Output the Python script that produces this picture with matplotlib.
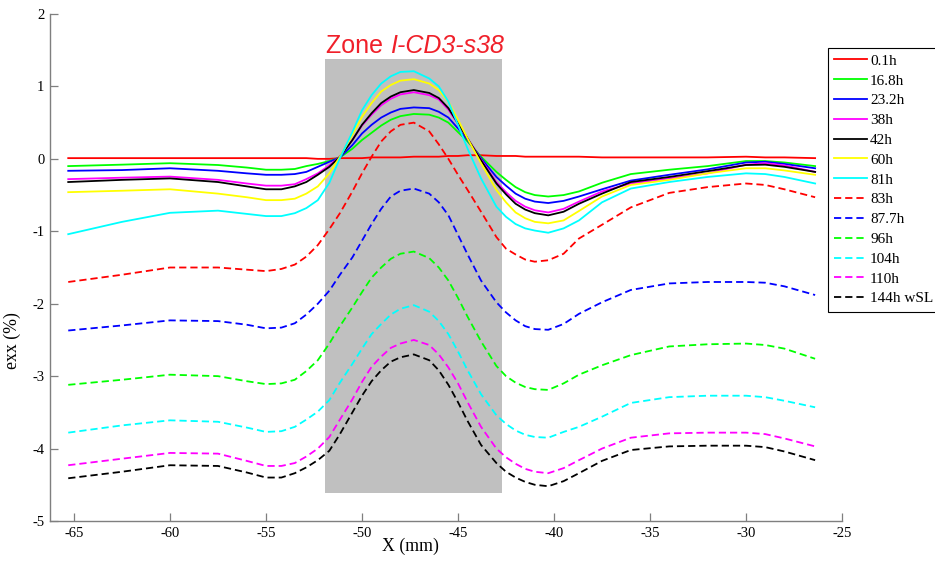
import matplotlib
matplotlib.use('Agg')
import matplotlib.pyplot as plt
from matplotlib.patches import Rectangle

plt.rcParams['axes.unicode_minus'] = False

# ---------------- data ----------------
x_mm = [-65.3, -62.5, -60.0, -57.5, -56.0, -55.0, -54.2, -53.5, -52.9, -52.3,
        -51.7, -51.15, -50.5, -50.0, -49.5, -49.0, -48.5, -48.0, -47.3, -46.5,
        -46.0, -45.5, -45.0, -44.5, -43.8, -43.0, -42.5, -42.0, -41.5, -41.0,
        -40.3, -39.5, -38.7, -37.5, -36.0, -34.0, -32.0, -30.0, -29.0, -28.0, -26.4]

e_0_1h = [0.01, 0.01, 0.01, 0.01, 0.01, 0.01, 0.01, 0.01, 0.01, 0.0,
          0.0, 0.01, 0.01, 0.01, 0.02, 0.02, 0.02, 0.02, 0.03, 0.03,
          0.03, 0.04, 0.04, 0.05, 0.05, 0.04, 0.04, 0.04, 0.03, 0.03,
          0.03, 0.03, 0.03, 0.02, 0.02, 0.02, 0.02, 0.03, 0.02, 0.02, 0.01]
e_16_8h = [-0.10, -0.08, -0.06, -0.085, -0.12, -0.15, -0.15, -0.14, -0.10, -0.07,
           -0.03, 0.02, 0.14, 0.26, 0.36, 0.46, 0.54, 0.59, 0.62, 0.61,
           0.57, 0.50, 0.37, 0.24, 0.03, -0.18, -0.29, -0.39, -0.46, -0.50,
           -0.52, -0.50, -0.45, -0.33, -0.21, -0.15, -0.10, -0.03, -0.03, -0.05, -0.10]
e_23_2h = [-0.165, -0.155, -0.13, -0.165, -0.20, -0.22, -0.22, -0.21, -0.18, -0.11,
           -0.04, 0.02, 0.19, 0.35, 0.47, 0.57, 0.64, 0.69, 0.71, 0.70,
           0.65, 0.57, 0.42, 0.26, 0.01, -0.25, -0.37, -0.48, -0.55, -0.59,
           -0.61, -0.58, -0.52, -0.42, -0.30, -0.22, -0.145, -0.05, -0.04, -0.07, -0.13]
e_38h = [-0.28, -0.26, -0.245, -0.29, -0.34, -0.37, -0.37, -0.35, -0.28, -0.20,
         -0.09, 0.03, 0.26, 0.46, 0.61, 0.74, 0.83, 0.89, 0.92, 0.88,
         0.82, 0.68, 0.48, 0.28, -0.01, -0.32, -0.46, -0.58, -0.66, -0.71,
         -0.74, -0.69, -0.59, -0.45, -0.34, -0.27, -0.20, -0.08, -0.06, -0.09, -0.18]
e_42h = [-0.32, -0.29, -0.27, -0.32, -0.38, -0.42, -0.42, -0.38, -0.32, -0.22,
         -0.11, 0.03, 0.26, 0.47, 0.63, 0.77, 0.86, 0.92, 0.95, 0.91,
         0.84, 0.70, 0.49, 0.28, -0.02, -0.34, -0.49, -0.62, -0.70, -0.75,
         -0.78, -0.73, -0.62, -0.48, -0.32, -0.25, -0.17, -0.085, -0.08, -0.11, -0.18]
e_60h = [-0.46, -0.44, -0.42, -0.48, -0.53, -0.57, -0.57, -0.55, -0.48, -0.38,
         -0.20, 0.03, 0.33, 0.58, 0.77, 0.93, 1.02, 1.08, 1.10, 1.04,
         0.95, 0.79, 0.54, 0.28, -0.06, -0.43, -0.60, -0.74, -0.82, -0.87,
         -0.89, -0.85, -0.72, -0.52, -0.36, -0.29, -0.20, -0.13, -0.13, -0.16, -0.22]
e_81h = [-1.04, -0.87, -0.745, -0.715, -0.76, -0.79, -0.79, -0.75, -0.68, -0.57,
         -0.33, 0.01, 0.37, 0.67, 0.88, 1.04, 1.14, 1.20, 1.21, 1.11,
         1.00, 0.79, 0.47, 0.14, -0.27, -0.66, -0.80, -0.90, -0.96, -0.99,
         -1.02, -0.96, -0.85, -0.60, -0.41, -0.32, -0.25, -0.20, -0.21, -0.25, -0.34]
e_83h = [-1.70, -1.60, -1.50, -1.50, -1.53, -1.55, -1.52, -1.46, -1.35, -1.19,
         -0.97, -0.75, -0.45, -0.20, 0.03, 0.24, 0.38, 0.47, 0.50, 0.38,
         0.20, 0.0, -0.22, -0.43, -0.73, -1.08, -1.24, -1.32, -1.39, -1.42,
         -1.40, -1.31, -1.10, -0.91, -0.67, -0.47, -0.39, -0.34, -0.36, -0.42, -0.53]
e_87_7h = [-2.37, -2.30, -2.23, -2.24, -2.29, -2.34, -2.33, -2.27, -2.15, -2.00,
           -1.82, -1.60, -1.36, -1.13, -0.90, -0.69, -0.52, -0.44, -0.41, -0.48,
           -0.60, -0.78, -1.05, -1.32, -1.68, -1.98, -2.12, -2.23, -2.31, -2.35,
           -2.36, -2.28, -2.14, -1.98, -1.81, -1.72, -1.70, -1.70, -1.71, -1.76, -1.88]
e_96h = [-3.12, -3.05, -2.98, -3.00, -3.07, -3.11, -3.10, -3.05, -2.93, -2.78,
         -2.55, -2.31, -2.05, -1.84, -1.64, -1.50, -1.38, -1.31, -1.28, -1.37,
         -1.50, -1.68, -1.92, -2.18, -2.52, -2.86, -3.00, -3.09, -3.15, -3.18,
         -3.19, -3.10, -2.98, -2.85, -2.71, -2.59, -2.56, -2.55, -2.57, -2.62, -2.76]
e_104h = [-3.78, -3.68, -3.61, -3.63, -3.71, -3.77, -3.76, -3.70, -3.60, -3.49,
          -3.33, -3.09, -2.83, -2.62, -2.42, -2.28, -2.15, -2.07, -2.02, -2.11,
          -2.24, -2.42, -2.66, -2.92, -3.25, -3.54, -3.66, -3.75, -3.81, -3.84,
          -3.85, -3.77, -3.70, -3.56, -3.37, -3.29, -3.27, -3.27, -3.29, -3.34, -3.43]
e_110h = [-4.23, -4.14, -4.06, -4.07, -4.17, -4.24, -4.24, -4.20, -4.11, -4.00,
          -3.84, -3.60, -3.32, -3.08, -2.87, -2.73, -2.61, -2.55, -2.50, -2.57,
          -2.70, -2.88, -3.10, -3.36, -3.70, -4.00, -4.12, -4.21, -4.28, -4.32,
          -4.34, -4.27, -4.16, -4.00, -3.85, -3.79, -3.78, -3.78, -3.80, -3.86, -3.97]
e_144h = [-4.41, -4.32, -4.23, -4.24, -4.33, -4.40, -4.40, -4.34, -4.26, -4.16,
          -4.03, -3.80, -3.50, -3.27, -3.07, -2.92, -2.80, -2.74, -2.70, -2.78,
          -2.92, -3.12, -3.36, -3.62, -3.95, -4.20, -4.32, -4.40, -4.46, -4.50,
          -4.52, -4.45, -4.34, -4.17, -4.02, -3.97, -3.96, -3.96, -3.98, -4.04, -4.16]

series_labels = ['0.1h', '16.8h', '23.2h', '38h', '42h', '60h', '81h',
                 '83h', '87.7h', '96h', '104h', '110h', '144h wSL']
series_values = [e_0_1h, e_16_8h, e_23_2h, e_38h, e_42h, e_60h, e_81h,
                 e_83h, e_87_7h, e_96h, e_104h, e_110h, e_144h]
series_colors = ['#ff0000', '#00ff00', '#0000ff', '#ff00ff', '#000000', '#ffff00', '#00ffff',
                 '#ff0000', '#0000ff', '#00ff00', '#00ffff', '#ff00ff', '#000000']
series_dashed = [False] * 7 + [True] * 6

zone_x = [-51.93, -42.72]
zone_y = [-4.61, 1.38]
zone_label_plain = 'Zone '
zone_label_italic = 'I-CD3-s38'

x_ticks = [-65, -60, -55, -50, -45, -40, -35, -30, -25]
y_ticks = [-5, -4, -3, -2, -1, 0, 1, 2]

# ---------------- figure ----------------
W, H = 935, 563
fig = plt.figure(figsize=(W / 100, H / 100), dpi=100)
ax = fig.add_axes([50 / W, (H - 521) / H, (842 - 50) / W, (521 - 14) / H])

ax.add_patch(Rectangle((zone_x[0], zone_y[0]), zone_x[1] - zone_x[0], zone_y[1] - zone_y[0],
                       facecolor='#c0c0c0', edgecolor='none', zorder=1))

for lbl, vals, col, dsh in zip(series_labels, series_values, series_colors, series_dashed):
    ax.plot(x_mm, vals, color=col, lw=1.3,
            linestyle=(0, (4, 2.2)) if dsh else '-', label=lbl, zorder=3)

ax.set_xlim(-66.25, -25)
ax.set_ylim(-5, 2)
ax.set_xticks(x_ticks)
ax.set_yticks(y_ticks)
ax.set_xticklabels([str(v) for v in x_ticks])
ax.set_yticklabels([str(v) for v in y_ticks])

for s in ['top', 'right']:
    ax.spines[s].set_visible(False)
for s in ['left', 'bottom']:
    ax.spines[s].set_color('#7f7f7f')
    ax.spines[s].set_linewidth(1.0)

ax.tick_params(direction='in', length=6, width=0.9, color='#7f7f7f',
               labelsize=10.5, pad=4)
for lab in ax.get_xticklabels() + ax.get_yticklabels():
    lab.set_family('Liberation Serif')

ax.set_xlabel('X (mm)', family='Liberation Serif', fontsize=12.8)
ax.set_ylabel('exx (%)', family='Liberation Serif', fontsize=12.8)
ax.xaxis.set_label_coords((410 - 50) / 792, -(538 - 521) / 507)
ax.yaxis.set_label_coords(-(50 - 21) / 792, (521 - 341) / 507)

# zone label
t1 = ax.text(-51.85, 1.46, zone_label_plain, color='#f0202a', fontsize=18,
             family='Liberation Sans', ha='left', va='baseline', zorder=5)
fig.canvas.draw()
bb = t1.get_window_extent()
x_data = ax.transData.inverted().transform((bb.x1, bb.y0))[0]
ax.text(x_data, 1.46, zone_label_italic, color='#f0202a', fontsize=18,
        family='Liberation Sans', style='italic', ha='left', va='baseline', zorder=5)

leg = fig.legend(loc='upper left', bbox_to_anchor=(828 / W, 1 - 48 / H),
                 prop={'family': 'Liberation Serif', 'size': 11},
                 frameon=True, fancybox=False, edgecolor='black', framealpha=1,
                 handlelength=2.15, handletextpad=0.2, labelspacing=0.4,
                 borderpad=0.4, borderaxespad=0)
leg.get_frame().set_linewidth(0.8)

fig.savefig('out.png', dpi=100)
